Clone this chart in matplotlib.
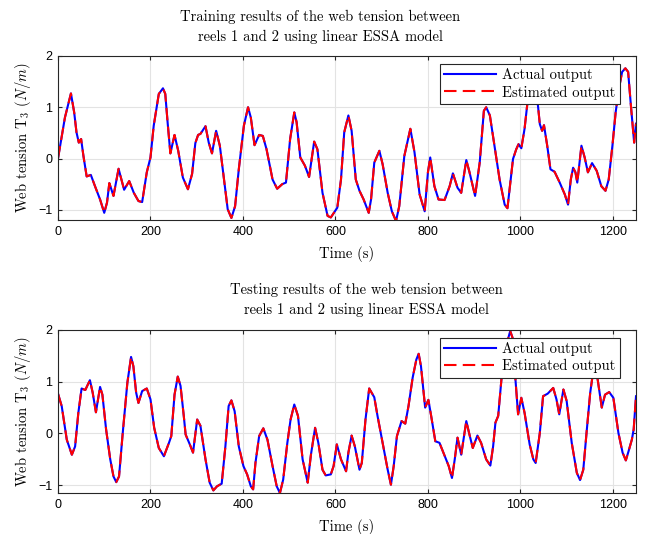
import matplotlib
matplotlib.use("Agg")
import matplotlib.pyplot as plt

# --- data ---
t_train = [0, 15, 28, 35, 40, 45, 50, 55, 62, 71, 80, 91, 100, 106, 111, 120,
           131, 143, 154, 164, 174, 182, 192, 200, 207, 218, 227, 232, 237, 243,
           252, 260, 270, 281, 290, 297, 303, 308, 319, 326, 333, 342, 350, 359,
           367, 375, 383, 391, 402, 411, 417, 425, 435, 443, 451, 464, 474, 485,
           493, 502, 511, 516, 524, 534, 543, 554, 561, 572, 583, 590, 604, 612,
           619, 628, 635, 644, 652, 661, 672, 677, 684, 695, 702, 713, 722, 731,
           738, 749, 762, 771, 782, 793, 800, 805, 814, 823, 836, 847, 854, 864,
           872, 883, 890, 902, 912, 921, 926, 934, 944, 955, 966, 972, 979, 984,
           991, 996, 1002, 1009, 1017, 1026, 1033, 1038, 1042, 1047, 1051, 1058,
           1065, 1074, 1085, 1096, 1103, 1109, 1114, 1119, 1123, 1132, 1139, 1146,
           1155, 1165, 1175, 1184, 1191, 1199, 1206, 1213, 1220, 1227, 1233, 1239,
           1246, 1250]
y_train = [0.00, 0.80, 1.27, 0.90, 0.51, 0.31, 0.38, 0.05, -0.35, -0.32, -0.54,
           -0.80, -1.06, -0.86, -0.48, -0.73, -0.20, -0.61, -0.44, -0.67, -0.83,
           -0.85, -0.27, 0.02, 0.64, 1.26, 1.37, 1.26, 0.71, 0.10, 0.46, 0.15,
           -0.37, -0.60, -0.30, 0.30, 0.46, 0.48, 0.63, 0.31, 0.10, 0.54, 0.25,
           -0.41, -0.99, -1.16, -0.93, -0.21, 0.64, 1.00, 0.80, 0.26, 0.46, 0.44,
           0.18, -0.41, -0.59, -0.50, -0.47, 0.38, 0.90, 0.71, 0.02, -0.14, -0.36,
           0.33, 0.18, -0.67, -1.12, -1.15, -0.96, -0.41, 0.51, 0.84, 0.54, -0.41,
           -0.63, -0.80, -1.06, -0.80, -0.08, 0.15, -0.11, -0.67, -1.03, -1.22,
           -0.93, 0.05, 0.58, 0.12, -0.70, -1.03, -0.27, 0.02, -0.54, -0.80,
           -0.81, -0.54, -0.29, -0.57, -0.67, -0.03, -0.27, -0.73, -0.08, 0.93,
           1.00, 0.84, 0.25, -0.41, -0.90, -0.97, -0.41, -0.01, 0.18, 0.28, 0.20,
           0.58, 1.23, 1.48, 1.30, 1.03, 0.67, 0.54, 0.65, 0.25, -0.21, -0.26,
           -0.47, -0.70, -0.90, -0.41, -0.18, -0.27, -0.47, 0.25, 0.02, -0.27,
           -0.09, -0.24, -0.54, -0.63, -0.41, 0.25, 0.90, 1.36, 1.69, 1.76, 1.69,
           1.03, 0.31, 0.68]

t_test = [0, 8, 19, 30, 37, 44, 51, 59, 69, 75, 82, 86, 91, 96, 104, 113, 120,
          126, 132, 140, 150, 158, 163, 169, 174, 182, 192, 200, 208, 218, 229,
          240, 245, 252, 259, 265, 272, 276, 285, 292, 301, 308, 319, 328, 336,
          344, 354, 362, 369, 375, 382, 391, 401, 409, 417, 422, 427, 435, 444,
          453, 464, 473, 480, 487, 496, 503, 511, 519, 529, 540, 547, 556, 563,
          572, 579, 590, 596, 603, 612, 623, 628, 635, 642, 652, 657, 665, 673,
          684, 691, 702, 713, 720, 726, 733, 743, 751, 758, 767, 775, 780, 785,
          794, 801, 807, 816, 825, 838, 845, 852, 858, 864, 872, 883, 889, 897,
          907, 915, 926, 935, 941, 946, 952, 959, 968, 974, 978, 983, 989, 995,
          1002, 1009, 1020, 1028, 1033, 1042, 1049, 1059, 1071, 1078, 1084, 1093,
          1100, 1111, 1122, 1129, 1136, 1143, 1151, 1156, 1161, 1167, 1176, 1183,
          1192, 1201, 1212, 1221, 1228, 1234, 1241, 1245, 1250]
y_test = [0.77, 0.53, -0.12, -0.41, -0.25, 0.40, 0.87, 0.84, 1.03, 0.79, 0.41,
          0.63, 0.90, 0.75, 0.08, -0.50, -0.83, -0.94, -0.83, 0.01, 0.98, 1.48,
          1.30, 0.79, 0.59, 0.82, 0.87, 0.66, 0.11, -0.28, -0.44, -0.18, -0.05,
          0.75, 1.10, 0.92, 0.34, -0.02, -0.21, -0.37, 0.27, 0.15, -0.50, -0.95,
          -1.10, -1.02, -0.97, -0.25, 0.53, 0.64, 0.43, -0.25, -0.63, -0.79,
          -1.02, -1.08, -0.57, -0.05, 0.10, -0.12, -0.63, -1.02, -1.15, -0.89,
          -0.18, 0.27, 0.56, 0.34, -0.50, -0.95, -0.41, 0.11, -0.18, -0.70,
          -0.81, -0.79, -0.63, -0.21, -0.50, -0.73, -0.37, -0.04, -0.25, -0.70,
          -0.57, 0.27, 0.87, 0.70, 0.34, -0.18, -0.70, -0.99, -0.63, -0.05, 0.24,
          0.19, 0.53, 1.08, 1.43, 1.54, 1.30, 0.50, 0.65, 0.34, -0.15, -0.18,
          -0.47, -0.63, -0.86, -0.50, -0.08, -0.41, 0.24, 0.01, -0.28, -0.04,
          -0.18, -0.50, -0.62, -0.25, 0.21, 0.34, 1.05, 1.55, 1.85, 1.98, 1.85,
          1.08, 0.37, 0.69, 0.40, -0.21, -0.50, -0.57, 0.01, 0.72, 0.77, 0.88,
          0.66, 0.37, 0.85, 0.63, -0.18, -0.76, -0.90, -0.70, 0.01, 0.79, 1.11,
          1.35, 1.05, 0.50, 0.75, 0.80, 0.69, 0.01, -0.37, -0.52, -0.34, -0.12,
          0.08, 0.72]

# estimated output lies on top of the measured one in the picture
y_train_est = list(y_train)
y_test_est = list(y_test)

x_ticks = [0, 200, 400, 600, 800, 1000, 1200]
y_ticks = [-1, 0, 1, 2]
titles = ["Training results of the web tension between\nreels 1 and 2 using linear ESSA model",
          "Testing results of the web tension between\nreels 1 and 2 using linear ESSA model"]

plt.rcParams['mathtext.fontset'] = 'cm'
plt.rcParams['font.family'] = ['Liberation Sans', 'DejaVu Sans']

W, H = 646, 534
fig = plt.figure(figsize=(W / 100, H / 100), dpi=100)

axes_px = [(58, 56, 636, 220), (58, 330, 636, 493)]   # left, top, right, bottom
ylims = [(-1.2, 2), (-1.15, 2)]
title_pos = [(320, 27), (366, 300)]
series = [(t_train, y_train, y_train_est), (t_test, y_test, y_test_est)]
dark = '#262626'

for i in range(2):
    l, tp, r, b = axes_px[i]
    ax = fig.add_axes([l / W, 1 - b / H, (r - l) / W, (b - tp) / H])
    t, act, est = series[i]
    ax.plot(t, act, color='#0000ff', lw=1.5, label='Actual output')
    est_line, = ax.plot(t, est, color='#ff0000', lw=1.5, label='Estimated output')
    est_line.set_dashes([6, 3])

    ax.set_xlim(0, 1250)
    ax.set_ylim(*ylims[i])
    ax.set_xticks(x_ticks)
    ax.set_yticks(y_ticks)
    ax.grid(True, color='#e3e3e3', lw=0.8)
    ax.set_axisbelow(True)
    ax.tick_params(direction='in', top=True, right=True, length=3,
                   width=0.8, color=dark, labelsize=9, labelcolor='black', pad=4)
    for s in ax.spines.values():
        s.set_color(dark)
        s.set_linewidth(0.8)

    ax.set_xlabel('Time (s)', family='cmr10', fontsize=10.5)
    ax.xaxis.set_label_coords(0.5, -0.16)
    ax.set_ylabel(r'Web tension T$_3$ ($N/m$)', family='cmr10', fontsize=10.5)
    ax.yaxis.set_label_coords(-0.043, 0.5)

    leg = ax.legend(loc='upper right', bbox_to_anchor=(1 - 16 / 578, 1 - 8 / 164),
                    borderaxespad=0, prop={'family': 'cmr10', 'size': 10.5},
                    fancybox=False, framealpha=1, edgecolor=dark,
                    handlelength=3.6, handletextpad=0.4, labelspacing=0.2,
                    borderpad=0.3)
    leg.get_frame().set_linewidth(0.8)

    fig.text(title_pos[i][0] / W, 1 - title_pos[i][1] / H, titles[i],
             family='cmr10', fontsize=10.5, ha='center', va='center',
             linespacing=1.45)

fig.savefig('out.png', dpi=100)
